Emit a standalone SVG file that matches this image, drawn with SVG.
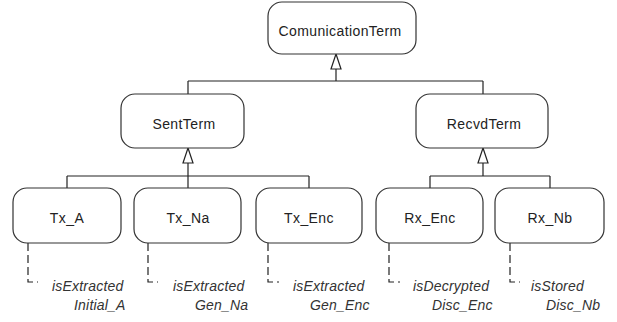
<svg xmlns="http://www.w3.org/2000/svg" width="617" height="322" viewBox="0 0 617 322">
<style>
.box{fill:#fff;stroke:#333;stroke-width:1.2}
.lbl{font-family:"Liberation Sans",Arial,sans-serif;font-size:14px;fill:#222;text-anchor:middle;letter-spacing:0.4px}
.note{font-family:"Liberation Sans",Arial,sans-serif;font-size:14px;font-style:italic;fill:#333;letter-spacing:0.2px}
.ln{fill:none;stroke:#222;stroke-width:1.2}
.dash{fill:none;stroke:#222;stroke-width:1.2;stroke-dasharray:8,4}
.tri{fill:#fff;stroke:#222;stroke-width:1.2}
</style>
<rect width="617" height="322" fill="#fff"/>
<g id="connectors">
<path class="ln" d="M336 69V81M188 81H483M188 81V94M483 81V94"/>
<polygon class="tri" points="336,54 331,69 341,69"/>
<path class="ln" d="M188 163V176M67 176H309M67 176V188M188 176V188M309 176V188"/>
<polygon class="tri" points="188,148 183,163 193,163"/>
<path class="ln" d="M483 163V176M430 176H550M430 176V188M550 176V188"/>
<polygon class="tri" points="483,148 478,163 488,163"/>
<path class="dash" d="M28 243V282H38"/>
<path class="dash" d="M148 243V282H158"/>
<path class="dash" d="M268 243V282H279"/>
<path class="dash" d="M389 243V282H400"/>
<path class="dash" d="M510 243V282H520"/>
</g>
<g id="ComunicationTerm"><rect class="box" x="268" y="2" width="148" height="52" rx="14"/><text class="lbl" x="340" y="36">ComunicationTerm</text></g>
<g id="SentTerm"><rect class="box" x="121" y="94" width="123" height="54" rx="14"/><text class="lbl" x="184" y="129">SentTerm</text></g>
<g id="RecvdTerm"><rect class="box" x="416" y="94" width="132" height="54" rx="14"/><text class="lbl" x="484" y="129">RecvdTerm</text></g>
<g id="Tx_A"><rect class="box" x="13" y="188" width="108" height="55" rx="14"/><text class="lbl" x="67" y="223">Tx_A</text></g>
<g id="Tx_Na"><rect class="box" x="134" y="188" width="107" height="55" rx="14"/><text class="lbl" x="188" y="223">Tx_Na</text></g>
<g id="Tx_Enc"><rect class="box" x="256" y="188" width="106" height="55" rx="14"/><text class="lbl" x="309" y="223">Tx_Enc</text></g>
<g id="Rx_Enc"><rect class="box" x="376" y="188" width="107" height="55" rx="14"/><text class="lbl" x="430" y="223">Rx_Enc</text></g>
<g id="Rx_Nb"><rect class="box" x="495" y="188" width="109" height="55" rx="14"/><text class="lbl" x="550" y="223">Rx_Nb</text></g>
<g id="notes">
<text class="note" x="52" y="291">isExtracted</text><text class="note" x="74" y="310">Initial_A</text>
<text class="note" x="173" y="291">isExtracted</text><text class="note" x="195" y="310">Gen_Na</text>
<text class="note" x="293" y="291">isExtracted</text><text class="note" x="310" y="310">Gen_Enc</text>
<text class="note" x="413" y="291">isDecrypted</text><text class="note" x="432" y="310">Disc_Enc</text>
<text class="note" x="531" y="291">isStored</text><text class="note" x="546" y="310">Disc_Nb</text>
</g>
</svg>
